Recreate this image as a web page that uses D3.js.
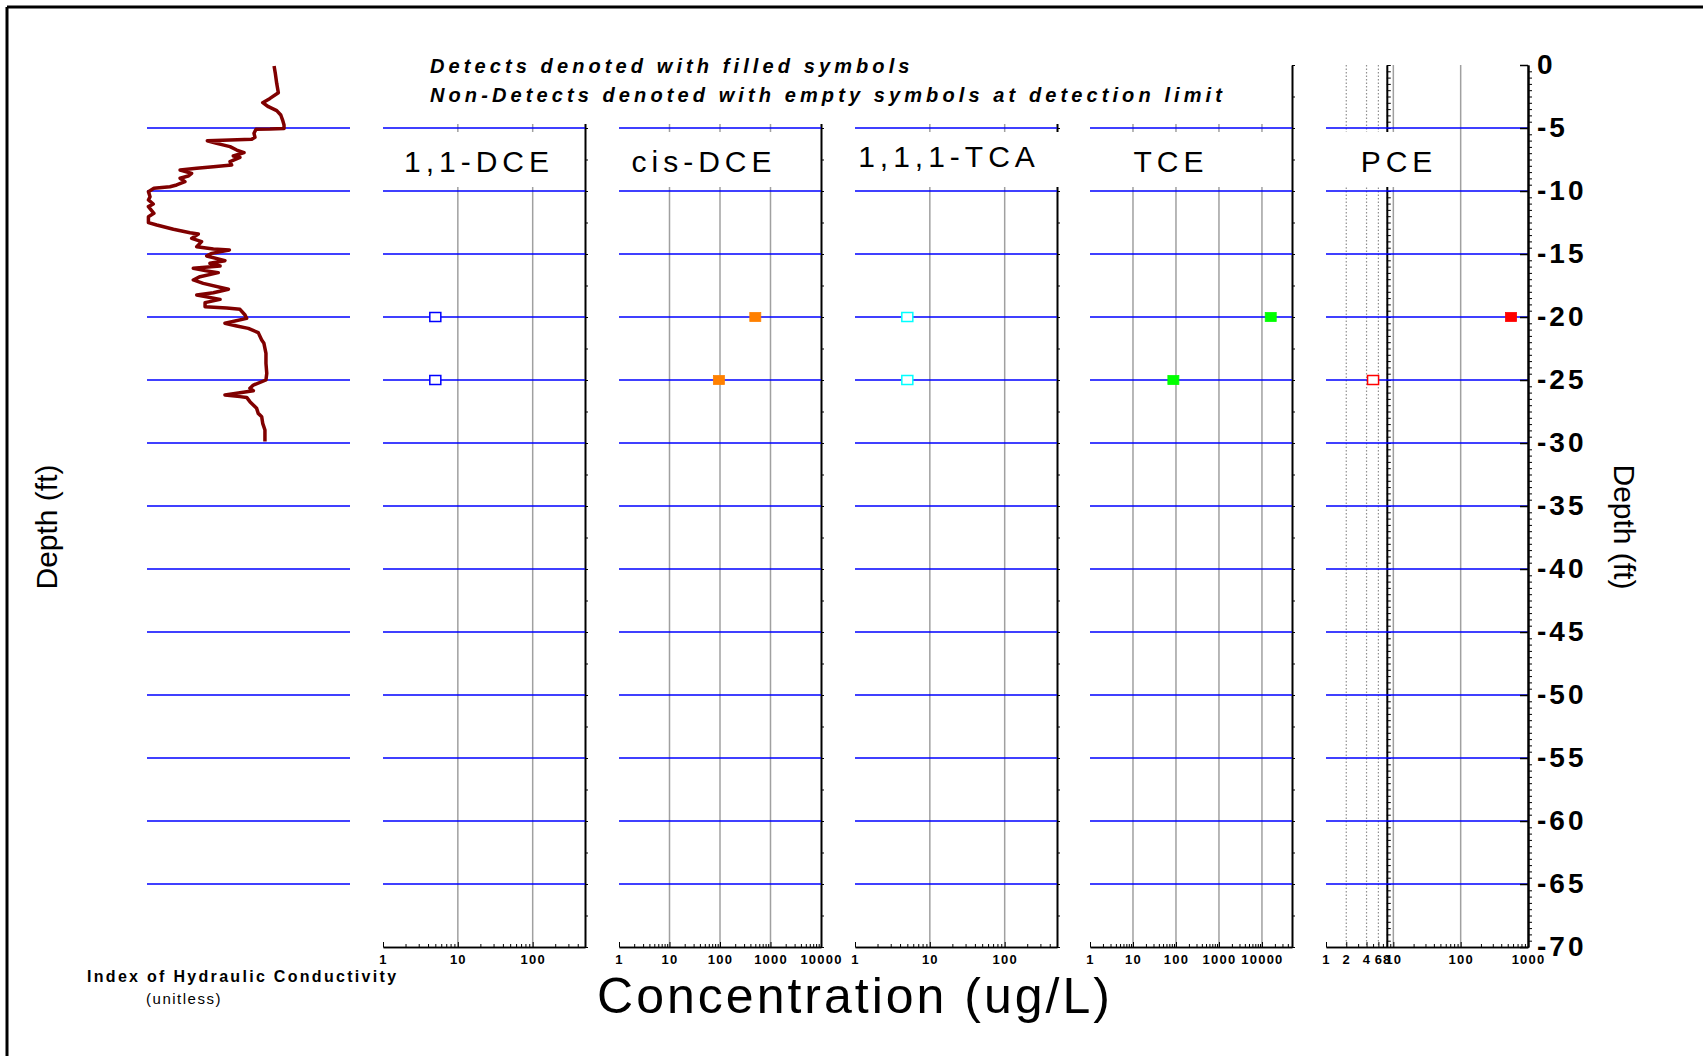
<!DOCTYPE html>
<html><head><meta charset="utf-8">
<script src="https://cdn.jsdelivr.net/npm/d3@7"></script>
<style>
html,body{margin:0;padding:0;background:#fff;}
svg{display:block;}
text{font-family:"Liberation Sans",Arial,Helvetica,sans-serif;}
</style></head><body>
<svg id="chart" width="1703" height="1056"></svg>
<script>
// ---------------- DATA ----------------
const depthTicks = [0,-5,-10,-15,-20,-25,-30,-35,-40,-45,-50,-55,-60,-65,-70];
const gridDepths = [-5,-10,-15,-20,-25,-30,-35,-40,-45,-50,-55,-60,-65];
const panelNames = ["1,1-DCE","cis-DCE","1,1,1-TCA","TCE","PCE"];
const panelMax = [500,10000,500,50000,1000];
const panelTickLabels = [
  [1,10,100],
  [1,10,100,1000,10000],
  [1,10,100],
  [1,10,100,1000,10000],
  [1,2,4,6,8,10,100,1000]
];
const panelGridSolid = [[10,100],[10,100,1000],[10,100],[10,100,1000,10000],[10,100]];
const pceDotted = [2,4,6];
const pceBlackLine = 8;
const sampleDepths = [-20,-25];
const dce11 = [5,5];           const dce11Detect = [false,false];
const cisDce = [500,95];       const cisDceDetect = [true,true];
const tca111 = [5,5];          const tca111Detect = [false,false];
const tce = [16000,87];        const tceDetect = [true,true];
const pce = [560,5];           const pceDetect = [true,false];
// Index of hydraulic conductivity log (elevation ft, unitless index)
const hcDepth = [-0.08,-0.66,-1.46,-2.20,-2.65,-2.99,-3.31,-3.62,-3.97,-4.37,-4.76,-5.03,-5.08,-5.10,-5.42,-5.74,-5.90,-5.95,-6.01,-6.22,-6.48,-6.75,-6.96,-7.22,-7.33,-7.67,-7.94,-8.07,-8.20,-8.33,-8.60,-8.81,-8.99,-9.26,-9.52,-9.66,-9.79,-10.05,-10.45,-10.71,-11.03,-11.24,-11.77,-12.04,-12.51,-12.70,-13.04,-13.31,-13.41,-13.76,-14.02,-14.42,-14.60,-14.68,-14.95,-15.16,-15.53,-15.74,-15.95,-16.14,-16.32,-16.48,-16.80,-17.06,-17.33,-17.80,-18.07,-18.25,-18.60,-18.86,-19.18,-19.29,-19.39,-19.84,-20.11,-20.50,-20.71,-20.90,-21.24,-21.83,-22.09,-22.88,-23.68,-24.47,-25.00,-25.40,-25.66,-25.85,-26.19,-26.32,-26.38,-26.72,-27.25,-27.65,-27.91,-28.44,-28.97,-29.89];
const hcIndex = [6.26,6.32,6.39,6.47,6.06,5.70,5.98,6.39,6.59,6.68,6.75,6.75,6.06,5.37,5.27,5.32,5.16,4.09,2.97,3.43,4.09,4.42,4.78,4.25,4.58,4.09,4.17,3.27,2.45,1.63,2.20,2.03,1.63,1.87,1.46,1.13,0.34,0.07,0.15,0.07,0.31,0.07,0.34,0.07,0.07,0.48,1.30,2.12,2.53,2.20,2.69,2.45,3.27,4.06,3.19,2.94,3.84,3.10,3.60,2.28,2.86,3.51,2.61,2.28,2.77,4.01,3.27,2.45,3.60,2.86,2.86,3.93,4.58,4.83,4.91,3.84,4.42,4.99,5.48,5.65,5.76,5.86,5.86,5.90,5.86,5.24,5.07,5.24,3.84,4.58,4.91,5.07,5.40,5.48,5.65,5.70,5.81,5.81];

// ---------------- LAYOUT / STYLE ----------------
const panelValues = [dce11,cisDce,tca111,tce,pce];
const panelDetect = [dce11Detect,cisDceDetect,tca111Detect,tceDetect,pceDetect];
const panelColors = ["#0000ff","#ff8000","#00ffff","#00ff00","#ff0000"];
const panelLeft = [383,619,855,1090,1326];
const panelW = 202;
const titleX = [479,704,949,1171,1399];
const titleY = [171.5,171.5,167,171.5,171.5];
const titleBox = [[389,569],[614,794],[862,1062],[1100,1280],[1335,1445]];
const hcRange = [147,350];
const FONT = '"Liberation Sans",Arial,Helvetica,sans-serif';

const svg = d3.select("#chart");
const y = d3.scaleLinear().domain([0,-70]).range([65,947]);
const hx = d3.scaleLinear().domain([0,10]).range(hcRange);
const xs = panelMax.map((m,i)=>d3.scaleLog().domain([1,m]).range([panelLeft[i],panelLeft[i]+panelW]));

// frame
svg.append("line").attr("x1",7).attr("y1",7).attr("x2",1703).attr("y2",7).attr("stroke","#000").attr("stroke-width",3);
svg.append("line").attr("x1",7).attr("y1",7).attr("x2",7).attr("y2",1056).attr("stroke","#000").attr("stroke-width",3);

const gGrid = svg.append("g");
const yTop = y(0), yBot = y(-70);
xs.forEach((x,i)=>{
  gGrid.selectAll(null).data(panelGridSolid[i]).enter().append("line")
    .attr("x1",d=>x(d)).attr("x2",d=>x(d)).attr("y1",yTop).attr("y2",yBot)
    .attr("stroke","#a0a0a0").attr("stroke-width",1.5);
  if(i===4){
    gGrid.selectAll(null).data(pceDotted).enter().append("line")
      .attr("x1",d=>x(d)).attr("x2",d=>x(d)).attr("y1",yTop).attr("y2",yBot)
      .attr("stroke","#909090").attr("stroke-width",1.2).attr("stroke-dasharray","1.5,2");
    const ga = gGrid.append("g").attr("transform",`translate(${x(pceBlackLine)},0)`)
      .call(d3.axisRight(y).tickValues(d3.range(0,-70.01,-0.5)).tickSizeInner(4).tickSizeOuter(0).tickFormat(""));
    ga.select(".domain").attr("stroke-width",2);
  } else {
    const ge = gGrid.append("g").attr("transform",`translate(${x.range()[1]},0)`)
      .call(d3.axisRight(y).tickValues(d3.range(0,-70.01,-2.5)).tickSizeInner(3).tickSizeOuter(0).tickFormat(""));
    ge.select(".domain").attr("stroke-width",2);
  }
});

// white boxes (header and titles)
svg.append("rect").attr("x",380).attr("y",56).attr("width",908).attr("height",68).attr("fill","#fff");
titleBox.forEach(b=>{
  svg.append("rect").attr("x",b[0]).attr("y",y(-5)+4).attr("width",b[1]-b[0]).attr("height",y(-10)-y(-5)-8).attr("fill","#fff");
});

// blue horizontal lines
const ranges = [hcRange].concat(xs.map(x=>x.range()));
const gBlue = svg.append("g");
ranges.forEach(r=>{
  gBlue.selectAll(null).data(gridDepths).enter().append("line")
    .attr("x1",r[0]).attr("x2",r[1]).attr("y1",d=>y(d)).attr("y2",d=>y(d))
    .attr("stroke","#0000ff").attr("stroke-width",1.5);
});

// bottom axes
xs.forEach((x,i)=>{
  const minor = x.ticks().filter(v=>panelTickLabels[i].indexOf(v)<0);
  svg.append("g").attr("transform",`translate(0,${yBot})`)
    .call(d3.axisBottom(x).tickValues(minor).tickSizeInner(-3).tickSizeOuter(0).tickFormat(""))
    .call(g=>g.select(".domain").attr("stroke-width",1.5));
  const gm = svg.append("g").attr("transform",`translate(0,${yBot})`)
    .call(d3.axisBottom(x).tickValues(panelTickLabels[i]).tickSizeInner(-5).tickSizeOuter(0).tickPadding(8).tickFormat(d3.format("d")));
  gm.select(".domain").attr("stroke-width",1.5);
  gm.selectAll("text").style("font-family",FONT).style("font-size","13px").style("font-weight","bold").style("letter-spacing","1.2px");
});

// right depth axis
const gR = svg.append("g").attr("transform",`translate(${xs[4].range()[1]},0)`);
gR.call(d3.axisRight(y).tickValues(d3.range(0,-70.01,-0.5).filter(v=>v%5!==0)).tickSizeInner(4).tickSizeOuter(0).tickFormat(""));
gR.select(".domain").attr("stroke-width",2);
const gR2 = svg.append("g").attr("transform",`translate(${xs[4].range()[1]},0)`)
  .call(d3.axisRight(y).tickValues(depthTicks).tickSizeInner(-8).tickSizeOuter(0).tickPadding(9).tickFormat(d=>String(d)));
gR2.select(".domain").attr("stroke-width",2);
gR2.selectAll(".tick line").attr("stroke-width",1.5);
gR2.selectAll("text").style("font-family",FONT).style("font-size","28px").style("font-weight","bold").style("letter-spacing","3px");

// hydraulic conductivity curve
const hcData = hcDepth.map((e,i)=>({e:e,v:hcIndex[i]}));
svg.append("path").datum(hcData)
  .attr("d",d3.line().x(d=>hx(d.v)).y(d=>y(d.e)))
  .attr("fill","none").attr("stroke","#800000").attr("stroke-width",3.5).attr("stroke-linejoin","round");

// markers
xs.forEach((x,i)=>{
  const pts = panelValues[i].map((v,j)=>({v:v,e:sampleDepths[j],det:panelDetect[i][j]}));
  svg.selectAll(null).data(pts).enter().append("rect")
    .attr("x",d=>x(d.v)-5.5).attr("y",d=>y(d.e)-4.5).attr("width",11).attr("height",9)
    .attr("fill",d=>d.det?panelColors[i]:"#fff")
    .attr("stroke",panelColors[i]).attr("stroke-width",d=>d.det?0.8:1.5);
});

// titles
panelNames.forEach((n,i)=>{
  svg.append("text").attr("x",titleX[i]).attr("y",titleY[i]).attr("text-anchor","middle")
    .style("font-size","30px").style("letter-spacing","5px").text(n);
});

// header notes
svg.append("text").attr("x",430).attr("y",73).style("font-size","20px").style("font-weight","bold")
  .style("font-style","italic").style("letter-spacing","4.1px").text("Detects denoted with filled symbols");
svg.append("text").attr("x",430).attr("y",102).style("font-size","20px").style("font-weight","bold")
  .style("font-style","italic").style("letter-spacing","4.1px").text("Non-Detects denoted with empty symbols at detection limit");

// axis titles
svg.append("text").attr("x",855).attr("y",1013).attr("text-anchor","middle")
  .style("font-size","50px").style("letter-spacing","3px").text("Concentration (ug/L)");
svg.append("text").attr("x",87).attr("y",982).style("font-size","16px").style("font-weight","bold")
  .style("letter-spacing","2.3px").text("Index of Hydraulic Conductivity");
svg.append("text").attr("x",184).attr("y",1004).attr("text-anchor","middle").style("font-size","15px")
  .style("letter-spacing","1.5px").text("(unitless)");
svg.append("text").attr("transform","translate(57,527) rotate(-90)").attr("text-anchor","middle")
  .style("font-size","30px").text("Depth (ft)");
svg.append("text").attr("transform","translate(1614,527) rotate(90)").attr("text-anchor","middle")
  .style("font-size","30px").text("Depth (ft)");
</script>
</body></html>
